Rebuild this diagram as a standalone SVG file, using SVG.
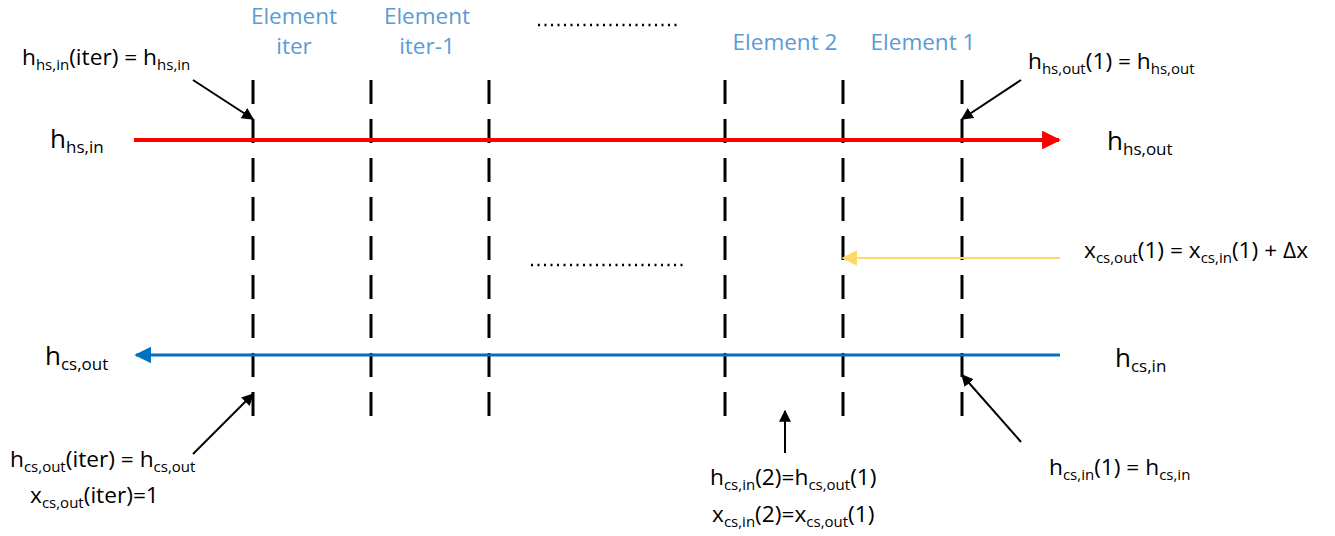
<svg xmlns="http://www.w3.org/2000/svg" width="1335" height="536" viewBox="0 0 1335 536">
  <style>
    .t { font-family: "Open Sans", "Liberation Sans", sans-serif; font-size: 22.7px; fill: #000; }
    .s { font-size: 15px; }
    .big { font-size: 26px; }
    .big .s { font-size: 17px; }
    .el { font-family: "Open Sans", "Liberation Sans", sans-serif; font-size: 22.5px; fill: #5B9BD5; }
    .dash { stroke: #000; stroke-width: 3; stroke-dasharray: 24 15; stroke-linecap: butt; fill: none; }
    .dots { stroke: #000; stroke-width: 2.5; stroke-dasharray: 2 4.5; fill: none; }
    .call { stroke: #000; stroke-width: 2; fill: none; marker-end: url(#ah); }
  </style>
  <defs>
    <marker id="ah" viewBox="0 0 10 10" refX="9" refY="5" markerWidth="6" markerHeight="6" orient="auto" markerUnits="strokeWidth">
      <path d="M0,0 L10,5 L0,10 z" fill="#000"/>
    </marker>
    <marker id="ahRed" viewBox="0 0 10 10" refX="9" refY="5" markerWidth="4.7" markerHeight="4.7" orient="auto" markerUnits="strokeWidth">
      <path d="M0,0 L10,5 L0,10 z" fill="#FF0000"/>
    </marker>
    <marker id="ahBlue" viewBox="0 0 10 10" refX="9" refY="5" markerWidth="5.7" markerHeight="5.7" orient="auto" markerUnits="strokeWidth">
      <path d="M0,0 L10,5 L0,10 z" fill="#0070C0"/>
    </marker>
    <marker id="ahYellow" viewBox="0 0 10 10" refX="9" refY="5" markerWidth="8" markerHeight="8" orient="auto" markerUnits="strokeWidth">
      <path d="M0,0 L10,5 L0,10 z" fill="#FFD966"/>
    </marker>
  </defs>

  <!-- element boundaries -->
  <g id="boundaries">
    <line class="dash" x1="253" y1="80" x2="253" y2="417"/>
    <line class="dash" x1="371" y1="80" x2="371" y2="417"/>
    <line class="dash" x1="489" y1="80" x2="489" y2="417"/>
    <line class="dash" x1="725" y1="80" x2="725" y2="417"/>
    <line class="dash" x1="843" y1="80" x2="843" y2="417"/>
    <line class="dash" x1="962" y1="80" x2="962" y2="417"/>
  </g>

  <!-- element labels -->
  <g id="element-iter">
    <text class="el" x="294" y="24" text-anchor="middle">Element</text>
    <text class="el" x="294" y="54" text-anchor="middle">iter</text>
  </g>
  <g id="element-iter-1">
    <text class="el" x="427" y="24" text-anchor="middle">Element</text>
    <text class="el" x="427" y="54" text-anchor="middle">iter-1</text>
  </g>
  <g id="element-2">
    <text class="el" x="785" y="50" text-anchor="middle">Element 2</text>
  </g>
  <g id="element-1">
    <text class="el" x="923" y="50" text-anchor="middle">Element 1</text>
  </g>
  <g id="ellipsis-top">
    <line class="dots" x1="538" y1="25" x2="678" y2="25"/>
  </g>
  <g id="ellipsis-mid">
    <line class="dots" x1="531" y1="265" x2="686" y2="265"/>
  </g>

  <!-- streams and callouts -->
  <g id="connectors">
    <line x1="134" y1="140" x2="1059" y2="140" stroke="#FF0000" stroke-width="4" marker-end="url(#ahRed)"/>
    <line x1="1060" y1="355" x2="136" y2="355" stroke="#0070C0" stroke-width="3" marker-end="url(#ahBlue)"/>
    <line x1="1060" y1="258" x2="843" y2="258" stroke="#FFD966" stroke-width="2" marker-end="url(#ahYellow)"/>
    <line class="call" x1="193" y1="80" x2="253" y2="119"/>
    <line class="call" x1="1021" y1="80" x2="962" y2="119"/>
    <line class="call" x1="193" y1="454" x2="253" y2="394"/>
    <line class="call" x1="1021" y1="442" x2="962" y2="375"/>
    <line class="call" x1="785" y1="453" x2="785" y2="411"/>
  </g>

  <!-- stream labels -->
  <g id="hs-in">
    <text class="t big" x="50" y="148">h<tspan class="s" dy="5">hs,in</tspan></text>
  </g>
  <g id="hs-in-iter">
    <text class="t" x="22" y="65">h<tspan class="s" dy="5">hs,in</tspan><tspan dy="-5">(iter) = h</tspan><tspan class="s" dy="5">hs,in</tspan></text>
  </g>
  <g id="hs-out">
    <text class="t big" x="1107" y="150">h<tspan class="s" dy="5">hs,out</tspan></text>
  </g>
  <g id="hs-out-1">
    <text class="t" x="1028" y="69">h<tspan class="s" dy="5">hs,out</tspan><tspan dy="-5">(1) = h</tspan><tspan class="s" dy="5">hs,out</tspan></text>
  </g>
  <g id="xcs-out-1">
    <text class="t" x="1084" y="258">x<tspan class="s" dy="5">cs,out</tspan><tspan dy="-5">(1) = x</tspan><tspan class="s" dy="5">cs,in</tspan><tspan dy="-5">(1) + Δx</tspan></text>
  </g>
  <g id="cs-in">
    <text class="t big" x="1115" y="367">h<tspan class="s" dy="5">cs,in</tspan></text>
  </g>
  <g id="cs-in-1">
    <text class="t" x="1049" y="475">h<tspan class="s" dy="5">cs,in</tspan><tspan dy="-5">(1) = h</tspan><tspan class="s" dy="5">cs,in</tspan></text>
  </g>
  <g id="cs-out">
    <text class="t big" x="45" y="365">h<tspan class="s" dy="5">cs,out</tspan></text>
  </g>
  <g id="cs-out-iter">
    <text class="t" x="10" y="467">h<tspan class="s" dy="5">cs,out</tspan><tspan dy="-5">(iter) = h</tspan><tspan class="s" dy="5">cs,out</tspan></text>
    <text class="t" x="30" y="503">x<tspan class="s" dy="5">cs,out</tspan><tspan dy="-5">(iter)=1</tspan></text>
  </g>
  <g id="cs-in-2">
    <text class="t" x="710" y="485">h<tspan class="s" dy="5">cs,in</tspan><tspan dy="-5">(2)=h</tspan><tspan class="s" dy="5">cs,out</tspan><tspan dy="-5">(1)</tspan></text>
    <text class="t" x="712" y="522">x<tspan class="s" dy="5">cs,in</tspan><tspan dy="-5">(2)=x</tspan><tspan class="s" dy="5">cs,out</tspan><tspan dy="-5">(1)</tspan></text>
  </g>
</svg>
